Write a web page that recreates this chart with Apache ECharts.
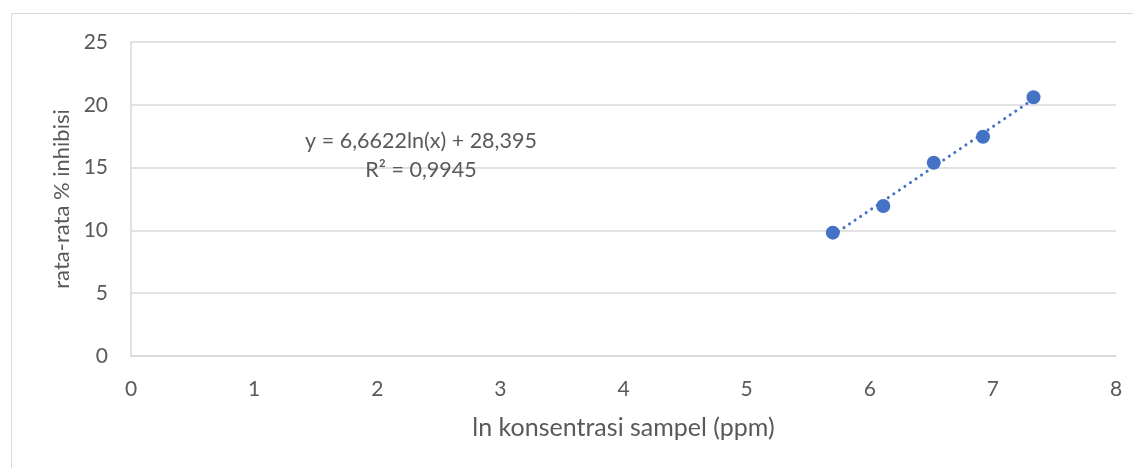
<!DOCTYPE html>
<html>
<head>
<meta charset="utf-8">
<script src="https://cdn.jsdelivr.net/npm/echarts@6/dist/echarts.min.js"></script>
<style>
  html, body { margin: 0; padding: 0; background: #ffffff; }
  #chart { width: 1133px; height: 468px; }
</style>
</head>
<body>
<div id="chart"></div>
<script>
// ln of sample concentration vs. mean % inhibition
const lnKonsentrasi = [5.70, 6.11, 6.52, 6.92, 7.33];
const rataInhibisi = [9.82, 11.94, 15.39, 17.46, 20.60];

const xTicks = [0, 1, 2, 3, 4, 5, 6, 7, 8];
const yTicks = [0, 5, 10, 15, 20, 25];

const xTitle = 'ln konsentrasi sampel (ppm)';
const yTitle = 'rata-rata % inhibisi';
const eqLines = ['y = 6,6622ln(x) + 28,395', 'R² = 0,9945'];

// least-squares trend line through the measured points
function leastSquares(xs, ys) {
  const n = xs.length;
  const mx = xs.reduce((a, b) => a + b, 0) / n;
  const my = ys.reduce((a, b) => a + b, 0) / n;
  let sxy = 0, sxx = 0;
  for (let i = 0; i < n; i++) {
    sxy += (xs[i] - mx) * (ys[i] - my);
    sxx += (xs[i] - mx) * (xs[i] - mx);
  }
  const slope = sxy / sxx;
  return { slope, intercept: my - slope * mx };
}
const fit = leastSquares(lnKonsentrasi, rataInhibisi);
const xMin = Math.min(...lnKonsentrasi), xMax = Math.max(...lnKonsentrasi);
const trend = [xMin, xMax].map(x => [x, fit.slope * x + fit.intercept]);

const FONT = 'Lato';
const TXT = '#595959';
const GRID = '#d9d9d9';

const chart = echarts.init(document.getElementById('chart'), null, { renderer: 'canvas' });

chart.setOption({
  backgroundColor: '#ffffff',
  animation: false,
  grid: { left: 131, right: 17, top: 42, bottom: 112, outerBoundsMode: 'none' },
  xAxis: {
    type: 'value',
    min: xTicks[0], max: xTicks[xTicks.length - 1], interval: 1,
    name: xTitle, nameLocation: 'middle', nameGap: 59,
    nameTextStyle: { color: TXT, fontFamily: FONT, fontSize: 25 },
    axisLine: { show: true, onZero: false, lineStyle: { color: GRID, width: 1.5 } },
    axisTick: { show: false },
    splitLine: { show: false },
    axisLabel: { color: TXT, fontFamily: FONT, fontSize: 21, margin: 23,
      formatter: v => xTicks.includes(v) ? String(v) : '' }
  },
  yAxis: {
    type: 'value',
    min: yTicks[0], max: yTicks[yTicks.length - 1], interval: 5,
    name: yTitle, nameLocation: 'middle', nameGap: 56, nameRotate: 90,
    nameTextStyle: { color: TXT, fontFamily: FONT, fontSize: 22 },
    axisLine: { show: true, lineStyle: { color: GRID, width: 1.5 } },
    axisTick: { show: false },
    splitLine: { show: true, lineStyle: { color: GRID, width: 1.5 } },
    axisLabel: { color: TXT, fontFamily: FONT, fontSize: 21, margin: 23,
      formatter: v => yTicks.includes(v) ? String(v) : '' }
  },
  graphic: [
    {
      type: 'rect', silent: true, z: -1,
      shape: { x: 11.5, y: 13.5, width: 1300, height: 600 },
      style: { fill: 'none', stroke: GRID, lineWidth: 1 }
    },
    {
      type: 'text', x: 421, y: 141, silent: true, z: 10,
      style: { text: eqLines[0], align: 'center', verticalAlign: 'middle',
        fill: TXT, font: '21.5px ' + FONT }
    },
    {
      type: 'text', x: 421, y: 170, silent: true, z: 10,
      style: { text: eqLines[1], align: 'center', verticalAlign: 'middle',
        fill: TXT, font: '21.5px ' + FONT }
    }
  ],
  series: [
    {
      type: 'line',
      data: trend,
      showSymbol: false,
      silent: true,
      z: 2,
      lineStyle: { color: '#4472C4', width: 3, type: [0.1, 6.6], cap: 'round' }
    },
    {
      type: 'scatter',
      data: lnKonsentrasi.map((x, i) => [x, rataInhibisi[i]]),
      symbol: 'circle',
      symbolSize: 14,
      z: 3,
      itemStyle: { color: '#4472C4', opacity: 1 }
    }
  ]
});
</script>
</body>
</html>
